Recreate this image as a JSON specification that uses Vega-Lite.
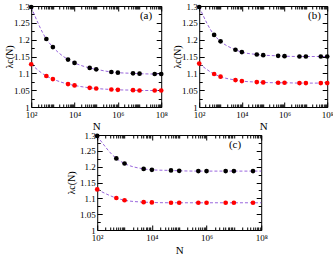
{
  "$schema": "https://vega.github.io/schema/vega-lite/v6.json",
  "padding": {"left": 3, "top": 1, "right": 0, "bottom": 0},
  "background": "white",
  "config": {
    "view": {"stroke": "#000", "strokeWidth": 1},
    "font": "Liberation Serif",
    "axis": {"domain": false, "grid": false, "labelFont": "Liberation Serif", "titleFont": "Liberation Serif", "labelColor": "#000", "titleColor": "#000", "tickColor": "#000", "labelFontSize": 9, "titleFontSize": 11, "titleFontWeight": "normal", "labelOverlap": false, "labelFlush": false}
  },
  "datasets": {
    "pts": [
      {"panel": "a", "series": "black", "N": 100, "lam": 1.297, "dot": true},
      {"panel": "a", "series": "black", "N": 500, "lam": 1.202, "dot": true},
      {"panel": "a", "series": "black", "N": 1000, "lam": 1.178, "dot": true},
      {"panel": "a", "series": "black", "N": 5000, "lam": 1.141, "dot": true},
      {"panel": "a", "series": "black", "N": 10000, "lam": 1.131, "dot": true},
      {"panel": "a", "series": "black", "N": 50000, "lam": 1.116, "dot": true},
      {"panel": "a", "series": "black", "N": 100000, "lam": 1.112, "dot": true},
      {"panel": "a", "series": "black", "N": 500000, "lam": 1.104, "dot": true},
      {"panel": "a", "series": "black", "N": 1000000, "lam": 1.102, "dot": true},
      {"panel": "a", "series": "black", "N": 5000000, "lam": 1.1, "dot": true},
      {"panel": "a", "series": "black", "N": 10000000, "lam": 1.099, "dot": true},
      {"panel": "a", "series": "black", "N": 50000000, "lam": 1.098, "dot": true},
      {"panel": "a", "series": "black", "N": 100000000, "lam": 1.098, "dot": true},
      {"panel": "a", "series": "red", "N": 100, "lam": 1.127, "dot": true},
      {"panel": "a", "series": "red", "N": 500, "lam": 1.092, "dot": true},
      {"panel": "a", "series": "red", "N": 1000, "lam": 1.083, "dot": true},
      {"panel": "a", "series": "red", "N": 5000, "lam": 1.068, "dot": true},
      {"panel": "a", "series": "red", "N": 10000, "lam": 1.064, "dot": true},
      {"panel": "a", "series": "red", "N": 50000, "lam": 1.057, "dot": true},
      {"panel": "a", "series": "red", "N": 100000, "lam": 1.055, "dot": true},
      {"panel": "a", "series": "red", "N": 500000, "lam": 1.052, "dot": true},
      {"panel": "a", "series": "red", "N": 1000000, "lam": 1.051, "dot": true},
      {"panel": "a", "series": "red", "N": 5000000, "lam": 1.05, "dot": true},
      {"panel": "a", "series": "red", "N": 10000000, "lam": 1.049, "dot": true},
      {"panel": "a", "series": "red", "N": 50000000, "lam": 1.049, "dot": true},
      {"panel": "a", "series": "red", "N": 100000000, "lam": 1.049, "dot": true},
      {"panel": "b", "series": "black", "N": 100, "lam": 1.297, "dot": true},
      {"panel": "b", "series": "black", "N": 500, "lam": 1.214, "dot": true},
      {"panel": "b", "series": "black", "N": 1000, "lam": 1.195, "dot": true},
      {"panel": "b", "series": "black", "N": 5000, "lam": 1.17, "dot": true},
      {"panel": "b", "series": "black", "N": 10000, "lam": 1.163, "dot": true},
      {"panel": "b", "series": "black", "N": 50000, "lam": 1.156, "dot": true},
      {"panel": "b", "series": "black", "N": 100000, "lam": 1.154, "dot": true},
      {"panel": "b", "series": "black", "N": 500000, "lam": 1.152, "dot": true},
      {"panel": "b", "series": "black", "N": 1000000, "lam": 1.151, "dot": true},
      {"panel": "b", "series": "black", "N": 5000000, "lam": 1.15, "dot": true},
      {"panel": "b", "series": "black", "N": 10000000, "lam": 1.15, "dot": true},
      {"panel": "b", "series": "black", "N": 50000000, "lam": 1.15, "dot": true},
      {"panel": "b", "series": "black", "N": 100000000, "lam": 1.15, "dot": true},
      {"panel": "b", "series": "red", "N": 100, "lam": 1.129, "dot": true},
      {"panel": "b", "series": "red", "N": 500, "lam": 1.098, "dot": true},
      {"panel": "b", "series": "red", "N": 1000, "lam": 1.09, "dot": true},
      {"panel": "b", "series": "red", "N": 5000, "lam": 1.08, "dot": true},
      {"panel": "b", "series": "red", "N": 10000, "lam": 1.077, "dot": true},
      {"panel": "b", "series": "red", "N": 50000, "lam": 1.074, "dot": true},
      {"panel": "b", "series": "red", "N": 100000, "lam": 1.073, "dot": true},
      {"panel": "b", "series": "red", "N": 500000, "lam": 1.072, "dot": true},
      {"panel": "b", "series": "red", "N": 1000000, "lam": 1.072, "dot": true},
      {"panel": "b", "series": "red", "N": 5000000, "lam": 1.071, "dot": true},
      {"panel": "b", "series": "red", "N": 10000000, "lam": 1.071, "dot": true},
      {"panel": "b", "series": "red", "N": 50000000, "lam": 1.071, "dot": true},
      {"panel": "b", "series": "red", "N": 100000000, "lam": 1.071, "dot": true},
      {"panel": "c", "series": "black", "N": 100, "lam": 1.297, "dot": true},
      {"panel": "c", "series": "black", "N": 500, "lam": 1.226, "dot": true},
      {"panel": "c", "series": "black", "N": 1000, "lam": 1.21, "dot": true},
      {"panel": "c", "series": "black", "N": 5000, "lam": 1.193, "dot": true},
      {"panel": "c", "series": "black", "N": 10000, "lam": 1.19, "dot": true},
      {"panel": "c", "series": "black", "N": 50000, "lam": 1.188, "dot": true},
      {"panel": "c", "series": "black", "N": 100000, "lam": 1.187, "dot": true},
      {"panel": "c", "series": "black", "N": 500000, "lam": 1.186, "dot": true},
      {"panel": "c", "series": "black", "N": 1000000, "lam": 1.186, "dot": true},
      {"panel": "c", "series": "black", "N": 5000000, "lam": 1.186, "dot": true},
      {"panel": "c", "series": "black", "N": 10000000, "lam": 1.186, "dot": true},
      {"panel": "c", "series": "black", "N": 50000000, "lam": 1.186, "dot": true},
      {"panel": "c", "series": "black", "N": 100000000, "lam": 1.186, "dot": false},
      {"panel": "c", "series": "red", "N": 100, "lam": 1.128, "dot": true},
      {"panel": "c", "series": "red", "N": 500, "lam": 1.101, "dot": true},
      {"panel": "c", "series": "red", "N": 1000, "lam": 1.094, "dot": true},
      {"panel": "c", "series": "red", "N": 5000, "lam": 1.088, "dot": true},
      {"panel": "c", "series": "red", "N": 10000, "lam": 1.087, "dot": true},
      {"panel": "c", "series": "red", "N": 50000, "lam": 1.086, "dot": true},
      {"panel": "c", "series": "red", "N": 100000, "lam": 1.086, "dot": true},
      {"panel": "c", "series": "red", "N": 500000, "lam": 1.086, "dot": true},
      {"panel": "c", "series": "red", "N": 1000000, "lam": 1.086, "dot": true},
      {"panel": "c", "series": "red", "N": 5000000, "lam": 1.086, "dot": true},
      {"panel": "c", "series": "red", "N": 10000000, "lam": 1.086, "dot": true},
      {"panel": "c", "series": "red", "N": 50000000, "lam": 1.086, "dot": true},
      {"panel": "c", "series": "red", "N": 100000000, "lam": 1.086, "dot": false}
    ],
    "lbl": [
      {"panel": "a", "text": "(a)", "N": 20000000, "lam": 1.27},
      {"panel": "b", "text": "(b)", "N": 25000000, "lam": 1.27},
      {"panel": "c", "text": "(c)", "N": 11000000, "lam": 1.268}
    ]
  },
  "spacing": -2,
  "center": true,
  "vconcat": [
    {
      "spacing": 3,
      "hconcat": [
        {
          "width": 130, "height": 101,
          "resolve": {"axis": {"x": "independent", "y": "independent"}},
          "layer": [
            {
              "data": {"name": "pts"},
              "transform": [{"filter": "datum.panel == 'a'"}],
              "mark": {"type": "line", "interpolate": "monotone", "strokeDash": [3, 2], "strokeWidth": 1, "color": "#9966dd"},
              "encoding": {
                "x": {"field": "N", "type": "quantitative", "scale": {"type": "log", "domain": [100, 100000000]},
                  "axis": {"orient": "bottom", "title": "N", "values": [100,200,300,400,500,600,700,800,900,1000,2000,3000,4000,5000,6000,7000,8000,9000,10000,20000,30000,40000,50000,60000,70000,80000,90000,100000,200000,300000,400000,500000,600000,700000,800000,900000,1000000,2000000,3000000,4000000,5000000,6000000,7000000,8000000,9000000,10000000,20000000,30000000,40000000,50000000,60000000,70000000,80000000,90000000,100000000],
                    "labelExpr": "datum.value==100?'10²':datum.value==10000?'10⁴':datum.value==1000000?'10⁶':datum.value==100000000?'10⁸':''",
                    "tickSize": {"condition": {"test": "datum.value==100||datum.value==10000||datum.value==1000000||datum.value==100000000", "value": -5}, "value": -3},
                    "labelPadding": 8, "titlePadding": -1}},
                "y": {"field": "lam", "type": "quantitative", "scale": {"domain": [1, 1.3]},
                  "axis": {"orient": "left", "title": "λc(N)", "titleFontSize": 10, "values": [1,1.025,1.05,1.075,1.1,1.125,1.15,1.175,1.2,1.225,1.25,1.275,1.3],
                    "labelExpr": "abs(datum.value*20 - round(datum.value*20)) < 0.01 ? format(datum.value, '.2~f') : ''",
                    "tickSize": {"condition": {"test": "abs(datum.value*20 - round(datum.value*20)) < 0.01", "value": -5}, "value": -3},
                    "labelPadding": 7, "titlePadding": -1}},
                "detail": {"field": "series"}
              }
            },
            {
              "data": {"name": "pts"},
              "transform": [{"filter": "datum.panel == 'a' && datum.dot"}],
              "mark": {"type": "circle", "size": 22, "opacity": 1},
              "encoding": {
                "x": {"field": "N", "type": "quantitative",
                  "axis": {"orient": "top", "title": null, "labels": false, "values": [100,200,300,400,500,600,700,800,900,1000,2000,3000,4000,5000,6000,7000,8000,9000,10000,20000,30000,40000,50000,60000,70000,80000,90000,100000,200000,300000,400000,500000,600000,700000,800000,900000,1000000,2000000,3000000,4000000,5000000,6000000,7000000,8000000,9000000,10000000,20000000,30000000,40000000,50000000,60000000,70000000,80000000,90000000,100000000],
                    "tickSize": {"condition": {"test": "datum.value==100||datum.value==10000||datum.value==1000000||datum.value==100000000", "value": -5}, "value": -3}}},
                "y": {"field": "lam", "type": "quantitative",
                  "axis": {"orient": "right", "title": null, "labels": false, "values": [1,1.025,1.05,1.075,1.1,1.125,1.15,1.175,1.2,1.225,1.25,1.275,1.3],
                    "tickSize": {"condition": {"test": "abs(datum.value*20 - round(datum.value*20)) < 0.01", "value": -5}, "value": -3}}},
                "color": {"field": "series", "type": "nominal", "scale": {"domain": ["black", "red"], "range": ["#000000", "#ff0000"]}, "legend": null}
              }
            },
            {
              "data": {"name": "lbl"},
              "transform": [{"filter": "datum.panel == 'a'"}],
              "mark": {"type": "text", "fontSize": 11, "font": "Liberation Serif", "color": "#000"},
              "encoding": {
                "x": {"field": "N", "type": "quantitative", "axis": null},
                "y": {"field": "lam", "type": "quantitative", "axis": null},
                "text": {"field": "text"}
              }
            }
          ]
        },
        {
          "width": 128, "height": 101,
          "resolve": {"axis": {"x": "independent", "y": "independent"}},
          "layer": [
            {
              "data": {"name": "pts"},
              "transform": [{"filter": "datum.panel == 'b'"}],
              "mark": {"type": "line", "interpolate": "monotone", "strokeDash": [3, 2], "strokeWidth": 1, "color": "#9966dd"},
              "encoding": {
                "x": {"field": "N", "type": "quantitative", "scale": {"type": "log", "domain": [100, 100000000]},
                  "axis": {"orient": "bottom", "title": "N", "values": [100,200,300,400,500,600,700,800,900,1000,2000,3000,4000,5000,6000,7000,8000,9000,10000,20000,30000,40000,50000,60000,70000,80000,90000,100000,200000,300000,400000,500000,600000,700000,800000,900000,1000000,2000000,3000000,4000000,5000000,6000000,7000000,8000000,9000000,10000000,20000000,30000000,40000000,50000000,60000000,70000000,80000000,90000000,100000000],
                    "labelExpr": "datum.value==100?'10²':datum.value==10000?'10⁴':datum.value==1000000?'10⁶':datum.value==100000000?'10⁸':''",
                    "tickSize": {"condition": {"test": "datum.value==100||datum.value==10000||datum.value==1000000||datum.value==100000000", "value": -5}, "value": -3},
                    "labelPadding": 8, "titlePadding": -1}},
                "y": {"field": "lam", "type": "quantitative", "scale": {"domain": [1, 1.3]},
                  "axis": {"orient": "left", "title": "λc(N)", "titleFontSize": 10, "values": [1,1.025,1.05,1.075,1.1,1.125,1.15,1.175,1.2,1.225,1.25,1.275,1.3],
                    "labelExpr": "abs(datum.value*20 - round(datum.value*20)) < 0.01 ? format(datum.value, '.2~f') : ''",
                    "tickSize": {"condition": {"test": "abs(datum.value*20 - round(datum.value*20)) < 0.01", "value": -5}, "value": -3},
                    "labelPadding": 7, "titlePadding": -1}},
                "detail": {"field": "series"}
              }
            },
            {
              "data": {"name": "pts"},
              "transform": [{"filter": "datum.panel == 'b' && datum.dot"}],
              "mark": {"type": "circle", "size": 22, "opacity": 1},
              "encoding": {
                "x": {"field": "N", "type": "quantitative",
                  "axis": {"orient": "top", "title": null, "labels": false, "values": [100,200,300,400,500,600,700,800,900,1000,2000,3000,4000,5000,6000,7000,8000,9000,10000,20000,30000,40000,50000,60000,70000,80000,90000,100000,200000,300000,400000,500000,600000,700000,800000,900000,1000000,2000000,3000000,4000000,5000000,6000000,7000000,8000000,9000000,10000000,20000000,30000000,40000000,50000000,60000000,70000000,80000000,90000000,100000000],
                    "tickSize": {"condition": {"test": "datum.value==100||datum.value==10000||datum.value==1000000||datum.value==100000000", "value": -5}, "value": -3}}},
                "y": {"field": "lam", "type": "quantitative",
                  "axis": {"orient": "right", "title": null, "labels": false, "values": [1,1.025,1.05,1.075,1.1,1.125,1.15,1.175,1.2,1.225,1.25,1.275,1.3],
                    "tickSize": {"condition": {"test": "abs(datum.value*20 - round(datum.value*20)) < 0.01", "value": -5}, "value": -3}}},
                "color": {"field": "series", "type": "nominal", "scale": {"domain": ["black", "red"], "range": ["#000000", "#ff0000"]}, "legend": null}
              }
            },
            {
              "data": {"name": "lbl"},
              "transform": [{"filter": "datum.panel == 'b'"}],
              "mark": {"type": "text", "fontSize": 11, "font": "Liberation Serif", "color": "#000"},
              "encoding": {
                "x": {"field": "N", "type": "quantitative", "axis": null},
                "y": {"field": "lam", "type": "quantitative", "axis": null},
                "text": {"field": "text"}
              }
            }
          ]
        }
      ]
    },
    {
      "width": 164, "height": 95,
      "resolve": {"axis": {"x": "independent", "y": "independent"}},
      "layer": [
        {
          "data": {"name": "pts"},
          "transform": [{"filter": "datum.panel == 'c'"}],
          "mark": {"type": "line", "interpolate": "monotone", "strokeDash": [3, 2], "strokeWidth": 1, "color": "#9966dd"},
          "encoding": {
            "x": {"field": "N", "type": "quantitative", "scale": {"type": "log", "domain": [100, 100000000]},
              "axis": {"orient": "bottom", "title": "N", "values": [100,200,300,400,500,600,700,800,900,1000,2000,3000,4000,5000,6000,7000,8000,9000,10000,20000,30000,40000,50000,60000,70000,80000,90000,100000,200000,300000,400000,500000,600000,700000,800000,900000,1000000,2000000,3000000,4000000,5000000,6000000,7000000,8000000,9000000,10000000,20000000,30000000,40000000,50000000,60000000,70000000,80000000,90000000,100000000],
                "labelExpr": "datum.value==100?'10²':datum.value==10000?'10⁴':datum.value==1000000?'10⁶':datum.value==100000000?'10⁸':''",
                "tickSize": {"condition": {"test": "datum.value==100||datum.value==10000||datum.value==1000000||datum.value==100000000", "value": -5}, "value": -3},
                "labelPadding": 8, "titlePadding": 0}},
            "y": {"field": "lam", "type": "quantitative", "scale": {"domain": [1, 1.3]},
              "axis": {"orient": "left", "title": "λc(N)", "titleFontSize": 10, "values": [1,1.025,1.05,1.075,1.1,1.125,1.15,1.175,1.2,1.225,1.25,1.275,1.3],
                "labelExpr": "abs(datum.value*20 - round(datum.value*20)) < 0.01 ? format(datum.value, '.2~f') : ''",
                "tickSize": {"condition": {"test": "abs(datum.value*20 - round(datum.value*20)) < 0.01", "value": -5}, "value": -3},
                "labelPadding": 7, "titlePadding": 3}},
            "detail": {"field": "series"}
          }
        },
        {
          "data": {"name": "pts"},
          "transform": [{"filter": "datum.panel == 'c' && datum.dot"}],
          "mark": {"type": "circle", "size": 22, "opacity": 1},
          "encoding": {
            "x": {"field": "N", "type": "quantitative",
              "axis": {"orient": "top", "title": null, "labels": false, "values": [100,200,300,400,500,600,700,800,900,1000,2000,3000,4000,5000,6000,7000,8000,9000,10000,20000,30000,40000,50000,60000,70000,80000,90000,100000,200000,300000,400000,500000,600000,700000,800000,900000,1000000,2000000,3000000,4000000,5000000,6000000,7000000,8000000,9000000,10000000,20000000,30000000,40000000,50000000,60000000,70000000,80000000,90000000,100000000],
                "tickSize": {"condition": {"test": "datum.value==100||datum.value==10000||datum.value==1000000||datum.value==100000000", "value": -5}, "value": -3}}},
            "y": {"field": "lam", "type": "quantitative",
              "axis": {"orient": "right", "title": null, "labels": false, "values": [1,1.025,1.05,1.075,1.1,1.125,1.15,1.175,1.2,1.225,1.25,1.275,1.3],
                "tickSize": {"condition": {"test": "abs(datum.value*20 - round(datum.value*20)) < 0.01", "value": -5}, "value": -3}}},
            "color": {"field": "series", "type": "nominal", "scale": {"domain": ["black", "red"], "range": ["#000000", "#ff0000"]}, "legend": null}
          }
        },
        {
          "data": {"name": "lbl"},
          "transform": [{"filter": "datum.panel == 'c'"}],
          "mark": {"type": "text", "fontSize": 11, "font": "Liberation Serif", "color": "#000"},
          "encoding": {
            "x": {"field": "N", "type": "quantitative", "axis": null},
            "y": {"field": "lam", "type": "quantitative", "axis": null},
            "text": {"field": "text"}
          }
        }
      ]
    }
  ]
}
